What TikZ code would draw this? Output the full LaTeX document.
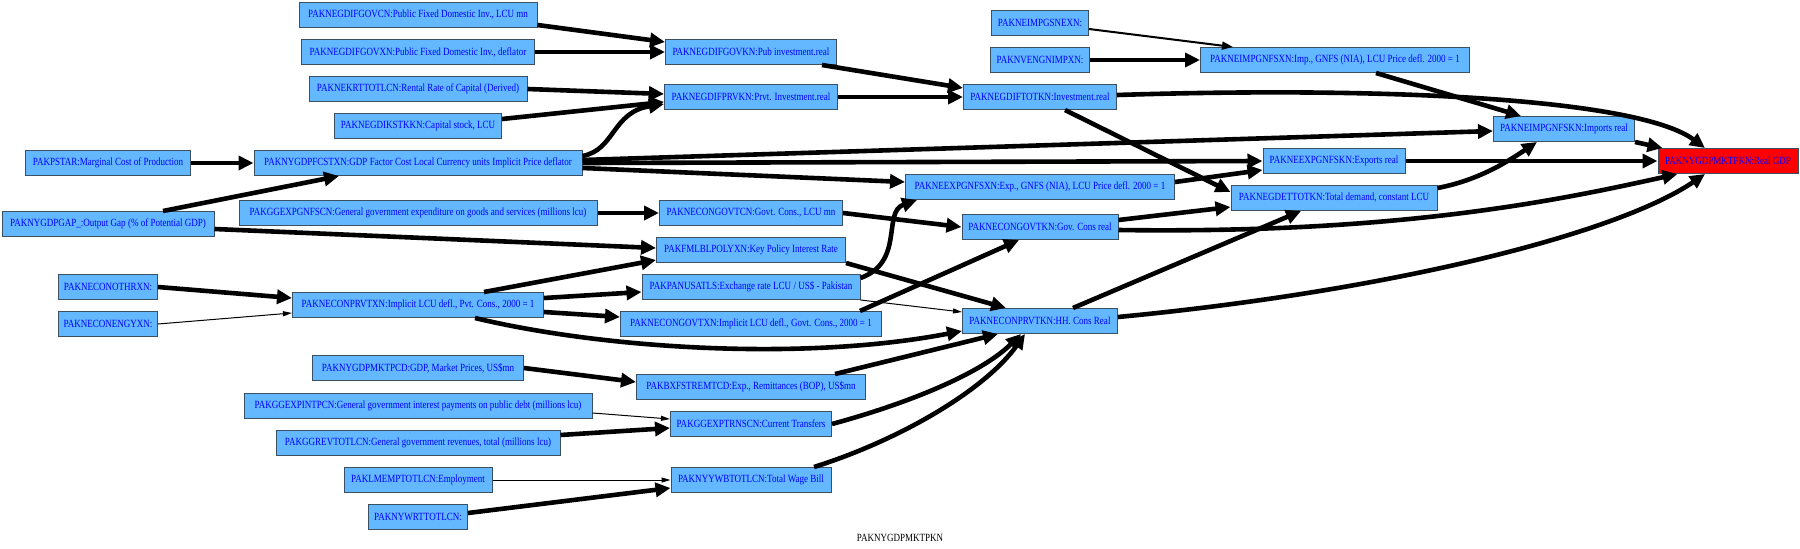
\documentclass[tikz,border=0pt]{standalone}
\usepackage{fontspec}
\newfontfamily\gv[FakeStretch=0.82]{Liberation Serif}
\usetikzlibrary{arrows.meta}
\definecolor{nodefill}{HTML}{63B8FF}
\definecolor{nodeline}{RGB}{60,80,100}
\definecolor{txtblue}{HTML}{0000FF}
\tikzset{
  box/.style={draw=nodeline, line width=1pt, fill=nodefill, text=txtblue, minimum height=25pt, inner xsep=4pt, inner ysep=2pt, font=\gv\fontsize{11}{12}\selectfont},
  goal/.style={box, fill=red},
  e/.style={line width=4.6pt, -{Triangle[length=15pt,width=14pt]}},
  em/.style={line width=2pt, -{Triangle[length=11pt,width=8pt]}},
  et/.style={line width=1pt, -{Triangle[length=9pt,width=5pt]}}
}
\begin{document}
\begin{tikzpicture}[x=1pt,y=-1pt]
\useasboundingbox (0,0) rectangle (1800,549);
% column 1
\node[box, minimum width=238] (n1) at (418,15) {PAKNEGDIFGOVCN:Public Fixed Domestic Inv., LCU mn};
\node[box, minimum width=233] (n2) at (418,52) {PAKNEGDIFGOVXN:Public Fixed Domestic Inv., deflator};
\node[box, minimum width=218] (n3) at (418,89) {PAKNEKRTTOTLCN:Rental Rate of Capital (Derived)};
\node[box, minimum width=167] (n4) at (418,126) {PAKNEGDIKSTKKN:Capital stock, LCU};
\node[box, minimum width=165] (n5) at (108,163) {PAKPSTAR:Marginal Cost of Production};
\node[box, minimum width=328] (n6) at (418,163) {PAKNYGDPFCSTXN:GDP Factor Cost Local Currency units Implicit Price deflator};
\node[box, minimum width=358] (n7) at (418,213) {PAKGGEXPGNFSCN:General government expenditure on goods and services (millions lcu)};
\node[box, minimum width=212] (n8) at (108,224) {PAKNYGDPGAP\_:Output Gap (\% of Potential GDP)};
\node[box, minimum width=99] (n9) at (108,287) {PAKNECONOTHRXN:};
\node[box, minimum width=99] (n10) at (108,324) {PAKNECONENGYXN:};
\node[box, minimum width=251] (n11) at (418,305) {PAKNECONPRVTXN:Implicit LCU defl., Pvt. Cons., 2000 = 1};
\node[box, minimum width=211] (n12) at (418,368) {PAKNYGDPMKTPCD:GDP, Market Prices, US\$mn};
\node[box, minimum width=348] (n13) at (418,406) {PAKGGEXPINTPCN:General government interest payments on public debt (millions lcu)};
\node[box, minimum width=284] (n14) at (418,443) {PAKGGREVTOTLCN:General government revenues, total (millions lcu)};
\node[box, minimum width=148] (n15) at (418,480) {PAKLMEMPTOTLCN:Employment};
\node[box, minimum width=99] (n16) at (418,517) {PAKNYWRTTOTLCN:};
% column 2
\node[box, minimum width=171] (n17) at (751,52) {PAKNEGDIFGOVKN:Pub investment.real};
\node[box, minimum width=173] (n18) at (751,97) {PAKNEGDIFPRVKN:Prvt. Investment.real};
\node[box, minimum width=183] (n23) at (751,213) {PAKNECONGOVTCN:Govt. Cons., LCU mn};
\node[box, minimum width=189] (n25) at (751,250) {PAKFMLBLPOLYXN:Key Policy Interest Rate};
\node[box, minimum width=218] (n26) at (751,287) {PAKPANUSATLS:Exchange rate LCU / US\$ - Pakistan};
\node[box, minimum width=261] (n27) at (751,324) {PAKNECONGOVTXN:Implicit LCU defl., Govt. Cons., 2000 = 1};
\node[box, minimum width=229] (n29) at (751,387) {PAKBXFSTREMTCD:Exp., Remittances (BOP), US\$mn};
\node[box, minimum width=161] (n30) at (751,424) {PAKGGEXPTRNSCN:Current Transfers};
\node[box, minimum width=160] (n31) at (751,480) {PAKNYYWBTOTLCN:Total Wage Bill};
% column 3
\node[box, minimum width=97] (n19) at (1040,23) {PAKNEIMPGSNEXN:};
\node[box, minimum width=99] (n20) at (1040,60) {PAKNVENGNIMPXN:};
\node[box, minimum width=153] (n21) at (1040,97) {PAKNEGDIFTOTKN:Investment.real};
\node[box, minimum width=269] (n22) at (1040,187) {PAKNEEXPGNFSXN:Exp., GNFS (NIA), LCU Price defl. 2000 = 1};
\node[box, minimum width=156] (n24) at (1040,227) {PAKNECONGOVTKN:Gov. Cons real};
\node[box, minimum width=155] (n28) at (1040,321) {PAKNECONPRVTKN:HH. Cons Real};
% column 4+
\node[box, minimum width=269] (n32) at (1335,60) {PAKNEIMPGNFSXN:Imp., GNFS (NIA), LCU Price defl. 2000 = 1};
\node[box, minimum width=141] (n33) at (1564,129) {PAKNEIMPGNFSKN:Imports real};
\node[box, minimum width=142] (n34) at (1334,161) {PAKNEEXPGNFSKN:Exports real};
\node[box, minimum width=206] (n35) at (1334,198) {PAKNEGDETTOTKN:Total demand, constant LCU};
\node[goal, minimum width=140] (n36) at (1728,161) {PAKNYGDPMKTPKN:Real GDP};
\node[font=\gv\fontsize{11}{12}\selectfont, inner sep=0pt] (lbl) at (900,538) {PAKNYGDPMKTPKN};
% edges
\draw[e] ([shift={(0,10)}]n1.east) -- ([shift={(0,-10)}]n17.west);
\draw[e] (n2.east) -- (n17.west);
\draw[e] (n3.east) -- ([shift={(0,-3)}]n18.west);
\draw[e] ([shift={(0,-7)}]n4.east) -- ([shift={(0,5)}]n18.west);
\draw[e] ([shift={(0,6)}]n6.north east) .. controls (615,150) and (612,112) .. ([shift={(0,7)}]n18.west);
\draw[e] (n5.east) -- (n6.west);
\draw[e] ([shift={(55,0)}]n8.north) -- ([shift={(-79,0)}]n6.south);
\draw[e] ([shift={(0,-3)}]n6.east) -- ([shift={(0,2)}]n33.west);
\draw[e] (n6.east) -- (n34.west);
\draw[e] ([shift={(0,5)}]n6.east) -- ([shift={(0,-5)}]n22.west);
\draw[e] (n7.east) -- (n23.west);
\draw[e] ([shift={(0,5)}]n8.east) -- ([shift={(0,-2)}]n25.west);
\draw[e] (n9.east) -- ([shift={(0,-7)}]n11.west);
\draw[et] (n10.east) -- ([shift={(0,8)}]n11.west);
\draw[e] ([shift={(66,0)}]n11.north) -- ([shift={(0,10)}]n25.west);
\draw[e] ([shift={(0,-7)}]n11.east) -- ([shift={(0,5)}]n26.west);
\draw[e] ([shift={(0,7)}]n11.east) -- ([shift={(0,-7)}]n27.west);
\draw[e] ([shift={(57,0)}]n11.south) .. controls (600,348) and (800,362) .. ([shift={(0,-3)}]n28.south west);
\draw[e] (n12.east) -- ([shift={(0,-5)}]n29.west);
\draw[et] ([shift={(0,7)}]n13.east) -- ([shift={(0,-5)}]n30.west);
\draw[e] ([shift={(0,-8)}]n14.east) -- ([shift={(0,4)}]n30.west);
\draw[et] (n15.east) -- (n31.west);
\draw[e] ([shift={(0,-4)}]n16.east) -- ([shift={(0,8)}]n31.west);
\draw[e] ([shift={(71,0)}]n17.south) -- ([shift={(0,-9)}]n21.west);
\draw[e] (n18.east) -- (n21.west);
\draw[em] ([shift={(0,6)}]n19.east) -- ([shift={(-102,0)}]n32.north);
\draw[e] (n20.east) -- (n32.west);
\draw[e] ([shift={(0,-2)}]n21.east) .. controls (1400,86) and (1640,100) .. ([shift={(-23,0)}]n36.north);
\draw[e] ([shift={(25,0)}]n21.south) -- ([shift={(0,-6)}]n35.west);
\draw[e] ([shift={(41,0)}]n32.south) -- ([shift={(-43,0)}]n33.north);
\draw[e] (n33.south east) -- ([shift={(5,0)}]n36.north west);
\draw[e] (n34.east) -- (n36.west);
\draw[e] ([shift={(0,-5)}]n22.east) -- ([shift={(0,9)}]n34.west);
\draw[e] ([shift={(0,-10)}]n35.east) .. controls (1480,180) and (1510,160) .. ([shift={(-27,0)}]n33.south);
\draw[e] (n23.east) -- (n24.west);
\draw[e] ([shift={(0,-7)}]n24.east) -- ([shift={(0,9)}]n35.west);
\draw[e] ([shift={(0,3)}]n24.east) .. controls (1400,234) and (1560,200) .. ([shift={(20,0)}]n36.south west);
\draw[e] (n25.south east) -- ([shift={(-34,0)}]n28.north);
\draw[e] ([shift={(0,-9)}]n26.east) .. controls (905,262) and (882,212) .. ([shift={(12,0)}]n22.south west);
\draw[et] (n26.south east) -- ([shift={(0,-9)}]n28.west);
\draw[e] ([shift={(109,0)}]n27.north) -- ([shift={(-21,0)}]n24.south);
\draw[e] ([shift={(33,0)}]n28.north) -- ([shift={(-33,0)}]n35.south);
\draw[e] ([shift={(0,-4)}]n28.east) .. controls (1400,290) and (1620,232) .. ([shift={(-23,0)}]n36.south);
\draw[e] ([shift={(84,0)}]n29.north) -- ([shift={(-42,0)}]n28.south);
\draw[e] (n30.east) .. controls (920,400) and (985,370) .. ([shift={(-19,0)}]n28.south);
\draw[e] ([shift={(63,0)}]n31.north) .. controls (900,440) and (985,390) .. ([shift={(-15,0)}]n28.south);
\end{tikzpicture}
\end{document}
